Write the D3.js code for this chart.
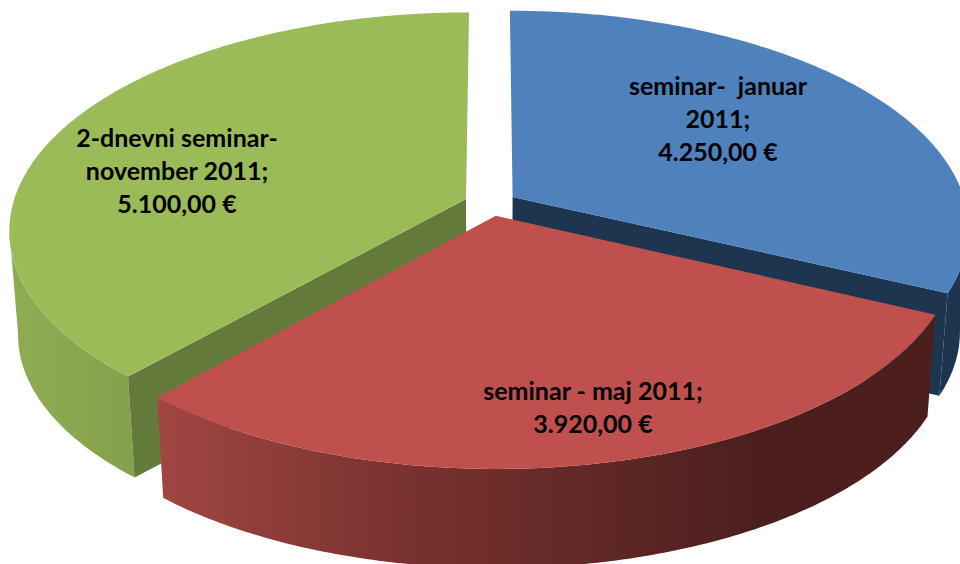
<!DOCTYPE html>
<html>
<head>
<meta charset="utf-8">
<script src="https://cdn.jsdelivr.net/npm/d3@7"></script>
<style>
html,body{margin:0;padding:0;background:#fff;overflow:hidden}
svg{display:block}
text{font-family:Lato,"Open Sans",sans-serif;font-weight:700;font-size:25px;fill:#000;white-space:pre}
</style>
</head>
<body>
<svg id="chart" width="960" height="564"></svg>
<script>
const categories = ["seminar-  januar 2011", "seminar - maj 2011", "2-dnevni seminar- november 2011"];
const values = [4250, 3920, 5100];
const valueLabels = ["4.250,00 €", "3.920,00 €", "5.100,00 €"];
const labelLines = [
  ["seminar-  januar", "2011;", "4.250,00 €"],
  ["seminar - maj 2011;", "3.920,00 €"],
  ["2-dnevni seminar-", "november 2011;", "5.100,00 €"]
];
const topColors = ["#4f81bd", "#c0504d", "#9bbb59"];
const innerColors = ["#1e3550", null, "#647a3a"];

const svg = d3.select("#chart");
const defs = svg.append("defs");

// Plane-to-screen projection of a perspective tilted pie
const cx = 490.5, cy = 203.5, k = 0.14, explode = 0.058, depth = 104, shrink = 0.982;
const sx = d3.scaleLinear().domain([-1, 1]).range([-453, 453]);
const sy = d3.scaleLinear().domain([-1, 1]).range([214, -214]);
function project(X, Y, bottom) {
  const w = 1 + k * Y, f = bottom ? shrink : 1;
  return [cx + f * sx(X) / w, cy + (bottom ? depth : 0) + f * sy(Y) / w];
}

const arcs = d3.pie().sort(null).startAngle(0).endAngle(2 * Math.PI)(values);
const line = d3.line();

function offset(a) {
  const m = (a.startAngle + a.endAngle) / 2;
  return [explode * Math.sin(m), explode * Math.cos(m)];
}
function rim(a, t0, t1, bottom) {
  const [ox, oy] = offset(a);
  const n = Math.max(2, Math.ceil(Math.abs(t1 - t0) * 80));
  return d3.range(n + 1).map(i => {
    const t = t0 + (t1 - t0) * i / n;
    return project(ox + Math.sin(t), oy + Math.cos(t), bottom);
  });
}
function apex(a, bottom) {
  const [ox, oy] = offset(a);
  return project(ox, oy, bottom);
}
function gradient(id, x1, x2, stops) {
  const g = defs.append("linearGradient").attr("id", id)
    .attr("gradientUnits", "userSpaceOnUse")
    .attr("x1", x1).attr("x2", x2).attr("y1", 0).attr("y2", 0);
  stops.forEach(s => g.append("stop").attr("offset", s[0]).attr("stop-color", s[1]));
  return `url(#${id})`;
}
function topFace(a, i) {
  svg.append("path")
    .attr("d", line([apex(a, false), ...rim(a, a.startAngle, a.endAngle, false)]) + "Z")
    .attr("fill", topColors[i]);
}
function edgeWall(a, t, fill) {
  const [ox, oy] = offset(a);
  const c = [ox + Math.sin(t), oy + Math.cos(t)];
  svg.append("path")
    .attr("d", line([apex(a, false), project(c[0], c[1], false), project(c[0], c[1], true), apex(a, true)]) + "Z")
    .attr("fill", fill);
}
function outerWall(a, t0, t1, fill) {
  svg.append("path")
    .attr("d", line([...rim(a, t0, t1, false), ...rim(a, t1, t0, true)]) + "Z")
    .attr("fill", fill);
}

const [blue, red, green] = arcs;
const silhouette = Math.acos(-k);   // rim angle where the side wall turns out of view
const greenGrad = gradient("gw", 10, 135, [[0, "#90ac53"], [1, "#84a04a"]]);
const redGrad = gradient("rw", 160, 760, [[0, "#a04643"], [0.4, "#79322f"], [1, "#4b1f1d"]]);

// back to front
outerWall(blue, silhouette, blue.endAngle, innerColors[0]);
edgeWall(blue, blue.endAngle, innerColors[0]);
topFace(blue, 0);

outerWall(green, green.startAngle, 2 * Math.PI - silhouette, greenGrad);
edgeWall(green, green.startAngle, innerColors[2]);
topFace(green, 2);

outerWall(red, red.startAngle, red.endAngle, redGrad);
topFace(red, 1);

// labels
const labelPos = [[718, 95], [593, 400], [177, 147]];
const lineStep = [33, 33, 33];
labelLines.forEach((lines, i) => {
  svg.append("text")
    .attr("text-anchor", "middle")
    .selectAll("tspan").data(lines).join("tspan")
    .attr("x", labelPos[i][0])
    .attr("y", (d, j) => labelPos[i][1] + j * lineStep[i])
    .text(d => d);
});
</script>
</body>
</html>
